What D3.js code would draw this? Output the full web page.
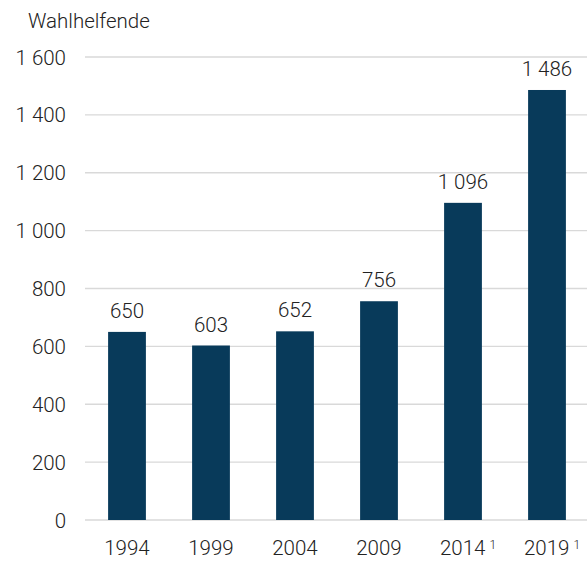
<!DOCTYPE html>
<html><head><meta charset="utf-8">
<script src="https://cdn.jsdelivr.net/npm/d3@7"></script>
<style>body{margin:0;background:#fff}svg{display:block}text{font-family:Roboto,"Liberation Sans",Arial,sans-serif;font-weight:300;fill:#222}</style>
</head><body>
<script>
const years = ["1994","1999","2004","2009","2014","2019"];
const footnotes = ["","","","","1","1"];
const values = [650, 603, 652, 756, 1096, 1486];
const yTicks = [0,200,400,600,800,1000,1200,1400,1600];
const yTitle = "Wahlhelfende";

const W=587,H=565;
const svg=d3.select("body").append("svg").attr("width",W).attr("height",H);
const fmt=v=>{const s=String(v);return s.length>3? s.slice(0,s.length-3)+" "+s.slice(-3):s;};
const x=d3.scaleBand().domain(years).range([85,589]).paddingInner(0.55).paddingOuter(0.275);
const y=d3.scaleLinear().domain([0,1600]).range([520,57]);

svg.append("text").attr("x",28).attr("y",28).attr("font-size",20.5).text(yTitle);

const g=svg.append("g");
g.selectAll("line.grid").data(yTicks).join("line").attr("class","grid")
 .attr("x1",85).attr("x2",587).attr("y1",d=>y(d)).attr("y2",d=>y(d))
 .attr("stroke","#d9d9d9").attr("stroke-width",1.3);
g.selectAll("text.yt").data(yTicks).join("text").attr("class","yt")
 .attr("x",66).attr("y",d=>y(d)+7.5).attr("text-anchor","end").attr("font-size",20.5)
 .text(d=>fmt(d));

g.selectAll("rect.bar").data(values).join("rect").attr("class","bar")
 .attr("x",(d,i)=>x(years[i])).attr("width",x.bandwidth())
 .attr("y",d=>y(d)).attr("height",d=>y(0)-y(d)).attr("fill","#083a5a");

g.selectAll("text.val").data(values).join("text").attr("class","val")
 .attr("x",(d,i)=>x(years[i])+x.bandwidth()/2).attr("y",d=>y(d)-14)
 .attr("text-anchor","middle").attr("font-size",20.5).text(d=>fmt(d));

const xl=g.selectAll("text.xt").data(years).join("text").attr("class","xt")
 .attr("x",(d,i)=>x(d)+x.bandwidth()/2 + (footnotes[i]?5:0)).attr("y",555)
 .attr("text-anchor","middle").attr("font-size",20.5);
xl.append("tspan").text(d=>d);
xl.append("tspan").attr("dx",4).attr("dy",-6).attr("font-size",12).text((d,i)=>footnotes[i]);
</script>
</body></html>
